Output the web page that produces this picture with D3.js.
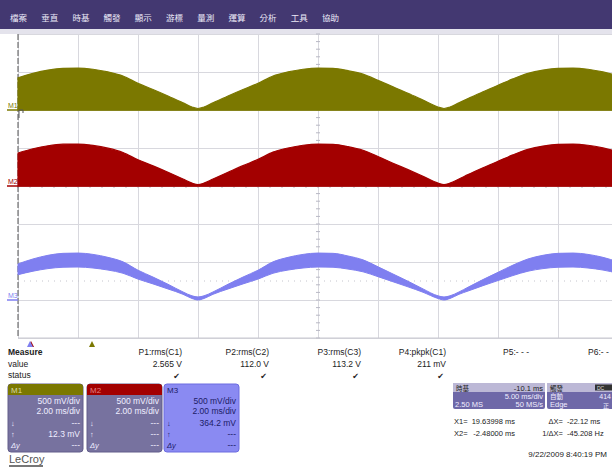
<!DOCTYPE html>
<html><head><meta charset="utf-8">
<script src="https://cdn.jsdelivr.net/npm/d3@7/dist/d3.min.js"></script>
<style>
html,body{margin:0;padding:0;background:#fff;}
svg{display:block;font-family:"Liberation Sans",Arial,sans-serif;}
</style></head><body>
<svg id="c" width="612" height="468"></svg>
<script>
// ---------- data ----------
const menuItems = ["檔案","垂直","時基","觸發","顯示","游標","量測","運算","分析","工具","協助"];
// time samples (ms), 2 ms/div, screen spans -10..+10 ms
const times = [-10,-9.5,-9,-8.5,-8,-7.5,-7,-6.5,-6,-5.5,-5,-4.5,-4.2,-4.0,-3.8,-3.5,-3,-2.5,-2,-1.5,-1,-0.5,0,0.5,1,1.5,2,2.5,3,3.5,4,4.2,4.4,4.7,5,5.5,6,6.5,7,7.5,8,8.5,9,9.5,10];
// envelope heights above each trace's ground (mV)
const m1Env = [424,482,525,548,552,536,501,448,350,270,185,95,40,20,40,95,185,270,350,448,501,536,552,548,517,472,390,305,220,130,40,20,40,95,150,240,325,410,482,525,548,552,536,501,448];
const m2Env = [434,490,530,550,552,534,498,440,345,265,180,92,38,18,38,92,180,268,350,446,500,536,552,548,518,470,388,300,215,128,38,18,38,92,150,240,325,410,482,525,548,552,536,501,452];
const m3Upper = [475,540,588,614,618,600,561,502,392,302,207,106,55,40,55,106,207,302,392,502,561,600,618,614,579,528,437,342,247,146,55,40,55,106,168,269,364,459,540,588,614,618,600,561,502];
const m3Lower = [333,379,413,431,434,421,394,352,275,212,145,75,20,0,20,75,145,212,275,352,394,421,434,431,407,371,307,240,173,102,20,0,20,75,118,189,256,322,379,413,431,434,421,394,352];
const traceNames = ["M1","M2","M3"];
const traceOffsetsMv = [1000, 0, -1500];
const measureNames = ["P1:rms(C1)","P2:rms(C2)","P3:rms(C3)","P4:pkpk(C1)"];
const measureValues = ["2.565 V","112.0 V","113.2 V","211 mV"];
const boxVdiv = ["500 mV/div","500 mV/div","500 mV/div"];
const boxHdiv = ["2.00 ms/div","2.00 ms/div","2.00 ms/div"];
const boxDown = ["---","---","364.2 mV"];
const boxUp = ["12.3 mV","---","---"];
const boxDy = ["---","---","---"];
const cursorLabels = ["X1=","X2="];
const cursorValues = ["19.63998 ms","-2.48000 ms"];
const deltaLabels = ["ΔX=","1/ΔX="];
const deltaValues = ["-22.12 ms","-45.208 Hz"];

// ---------- layout / style ----------
const colors = ["#7b7800","#a30000","#7f7ff0"];
const svg = d3.select("#c");
const W = 612, H = 468;
const plot = {l:18, r:618, t:34, b:338};
const cjk = "'Noto Sans CJK TC',sans-serif";

// header bar
svg.append("rect").attr("x",0).attr("y",0).attr("width",W).attr("height",29).attr("fill","#433871");
svg.append("rect").attr("x",0).attr("y",29).attr("width",W).attr("height",5).attr("fill","#e4e3ec");
const menuX = d3.scalePoint().domain(menuItems).range([10,322]);
svg.append("g").selectAll("text").data(menuItems).join("text")
  .attr("x",d=>menuX(d)).attr("y",21).attr("fill","#eceaf8")
  .attr("font-size",8.5).attr("font-family",cjk).text(d=>d);

// scales
const x = d3.scaleLinear().domain([-10,10]).range([plot.l,plot.r]);
const y = d3.scaleLinear().domain([-2000,2000]).range([plot.b,plot.t]);

// plot background + grid
svg.append("rect").attr("x",plot.l).attr("y",plot.t).attr("width",W-plot.l).attr("height",plot.b-plot.t).attr("fill","#fff");
const grid = svg.append("g");
const xTicks = d3.range(-10,10.01,2);
const yTicks = d3.range(-2000,2000.1,500);
grid.append("g").attr("transform",`translate(0,${plot.b})`)
  .call(d3.axisBottom(x).tickValues(xTicks).tickSize(-(plot.b-plot.t)).tickFormat(""))
  .call(g=>g.select(".domain").remove())
  .call(g=>g.selectAll("line").attr("stroke","#d8d8de"));
grid.append("g").attr("transform",`translate(${plot.l},0)`)
  .call(d3.axisLeft(y).tickValues(yTicks).tickSize(-(W-plot.l)).tickFormat(""))
  .call(g=>g.select(".domain").remove())
  .call(g=>g.selectAll("line").attr("stroke","#d8d8de"));
// minor ticks on centre axes
const minorT = d3.range(-10,10.01,0.4);
const minorV = d3.range(-2000,2000.1,100);
grid.append("g").selectAll("line").data(minorV).join("line")
  .attr("x1",x(0)-2).attr("x2",x(0)+2).attr("y1",d=>y(d)).attr("y2",d=>y(d)).attr("stroke","#b8b8c4");
grid.append("g").selectAll("line").data(minorT).join("line")
  .attr("y1",y(0)-2).attr("y2",y(0)+2).attr("x1",d=>x(d)).attr("x2",d=>x(d)).attr("stroke","#b8b8c4");
// dotted level line
grid.append("line").attr("x1",plot.l).attr("x2",W).attr("y1",y(-1250)).attr("y2",y(-1250))
  .attr("stroke","#c4c4cc").attr("stroke-dasharray","1,5");
// left border dashed
grid.append("line").attr("x1",plot.l).attr("x2",plot.l).attr("y1",plot.t).attr("y2",plot.b)
  .attr("stroke","#555").attr("stroke-dasharray","6,2");
grid.append("line").attr("x1",plot.l).attr("x2",W).attr("y1",plot.b).attr("y2",plot.b).attr("stroke","#c8c8d0");

// traces
const envs = [m1Env, m2Env];
envs.forEach((env,i)=>{
  const off = traceOffsetsMv[i];
  const area = d3.area().x((d,k)=>x(times[k])).y0(y(off)).y1(d=>y(off+d)).curve(d3.curveMonotoneX);
  svg.append("path").datum(env).attr("d",area).attr("fill",colors[i])
    .attr("stroke",colors[i]).attr("stroke-width",1.2);
  svg.append("line").attr("x1",plot.l).attr("x2",W).attr("y1",y(off)).attr("y2",y(off))
    .attr("stroke",colors[i]).attr("stroke-width",1.5);
});
{
  const off = traceOffsetsMv[2];
  const band = d3.area().x((d,k)=>x(times[k])).y0((d,k)=>y(off+m3Lower[k])).y1(d=>y(off+d)).curve(d3.curveMonotoneX);
  svg.append("path").datum(m3Upper).attr("d",band).attr("fill",colors[2])
    .attr("stroke",colors[2]).attr("stroke-width",1);
}
// trace labels and ground markers
traceNames.forEach((n,i)=>{
  const gy = y(traceOffsetsMv[i]);
  svg.append("text").attr("x",8).attr("y",gy-2).attr("font-size",7).attr("fill",colors[i]).text(n);
  svg.append("line").attr("x1",7).attr("x2",18).attr("y1",gy).attr("y2",gy).attr("stroke",colors[i]).attr("stroke-width",1.5);
});
// trigger marker near M1
svg.append("path").attr("d",`M${plot.l+1},${y(1000)+8} V${y(1000)} H${plot.l+5} V${y(1000)+3}`)
  .attr("fill","none").attr("stroke","#555").attr("stroke-width",1);

// bottom triangles
const tri = (cx,cy,c)=>svg.append("path").attr("d",`M${cx-3},${cy+3} L${cx},${cy-3} L${cx+3},${cy+3}Z`).attr("fill",c);
tri(31,344,colors[1]); tri(30,344,colors[2]);
tri(92,344,colors[0]);

// measure table
const mt = svg.append("g").attr("font-size",8.5).attr("fill","#222");
mt.append("text").attr("x",8).attr("y",355).attr("font-weight","bold").text("Measure");
mt.append("text").attr("x",8).attr("y",367).text("value");
mt.append("text").attr("x",8).attr("y",378).text("status");
const colRight = [182,269,361,446];
measureNames.forEach((n,i)=>{
  const cx = colRight[i];
  mt.append("text").attr("x",cx).attr("y",355).attr("text-anchor","end").text(n);
  mt.append("text").attr("x",cx).attr("y",367).attr("text-anchor","end").text(measureValues[i]);
  mt.append("text").attr("x",cx-2).attr("y",379).attr("text-anchor","end").attr("font-family","DejaVu Sans").attr("font-size",8).text("✔");
});
mt.append("text").attr("x",503).attr("y",355).text("P5:- - -");
mt.append("text").attr("x",588).attr("y",355).text("P6:- -");

// trace info boxes
const boxX = [8,87,164];
traceNames.forEach((n,i)=>{
  const bx = boxX[i], bw = 75, by = 384, bh = 68;
  const g = svg.append("g");
  const bodyFill = i===2 ? "#8a8af2" : "#77729f";
  const txtFill = i===2 ? "#1c1c66" : "#f0eeff";
  g.append("rect").attr("x",bx).attr("y",by).attr("width",bw).attr("height",bh).attr("rx",3).attr("fill",bodyFill)
    .attr("stroke", i===2 ? "#6c6ce0" : "#625d8a");
  if(i<2){
    g.append("path").attr("d",`M${bx},${by+11} V${by+3} Q${bx},${by} ${bx+3},${by} H${bx+bw-3} Q${bx+bw},${by} ${bx+bw},${by+3} V${by+11}Z`).attr("fill",colors[i]);
  }
  g.append("text").attr("x",bx+3).attr("y",by+9).attr("font-size",8)
    .attr("fill", i===0 ? "#d8d8a0" : i===1 ? "#e08080" : "#1c1c66").text(n);
  const right = bx+bw-3;
  [[boxVdiv[i],20],[boxHdiv[i],30]].forEach(([t,dy])=>g.append("text").attr("x",right).attr("y",by+dy).attr("text-anchor","end").attr("font-size",8.5).attr("fill",txtFill).text(t));
  [["↓",boxDown[i],42],["↑",boxUp[i],53],["Δy",boxDy[i],64]].forEach(([lab,val,dy])=>{
    g.append("text").attr("x",bx+3).attr("y",by+dy).attr("font-size",7.5).attr("font-style",lab==="Δy"?"italic":"normal").attr("fill",txtFill).text(lab);
    g.append("text").attr("x",right).attr("y",by+dy).attr("text-anchor","end").attr("font-size",8.5).attr("fill",txtFill).text(val);
  });
});

// LeCroy logo
svg.append("text").attr("x",9).attr("y",463).attr("font-size",11).attr("fill","#555").text("LeCroy");
svg.append("rect").attr("x",9).attr("y",465).attr("width",34).attr("height",2).attr("fill","#777");

// timebase / trigger boxes
const tb = svg.append("g").attr("font-size",7.5);
tb.append("rect").attr("x",453).attr("y",383).attr("width",92).attr("height",26).attr("rx",2).attr("fill","#6e68a8");
tb.append("rect").attr("x",453).attr("y",383).attr("width",92).attr("height",9).attr("fill","#bcb8d6");
tb.append("text").attr("x",456).attr("y",390.5).attr("font-family",cjk).attr("font-size",6.5).attr("fill","#222").text("時基");
tb.append("text").attr("x",543).attr("y",390.5).attr("text-anchor","end").attr("fill","#222").text("-10.1 ms");
tb.append("text").attr("x",543).attr("y",399).attr("text-anchor","end").attr("fill","#f0eeff").text("5.00 ms/div");
tb.append("text").attr("x",455).attr("y",407).attr("fill","#f0eeff").text("2.50 MS");
tb.append("text").attr("x",543).attr("y",407).attr("text-anchor","end").attr("fill","#f0eeff").text("50 MS/s");
tb.append("rect").attr("x",547).attr("y",383).attr("width",70).attr("height",26).attr("rx",2).attr("fill","#6e68a8");
tb.append("rect").attr("x",547).attr("y",383).attr("width",70).attr("height",9).attr("fill","#bcb8d6");
tb.append("text").attr("x",550).attr("y",390.5).attr("font-family",cjk).attr("font-size",6.5).attr("fill","#222").text("觸發");
tb.append("rect").attr("x",595).attr("y",384.5).attr("width",17).attr("height",6).attr("fill","#333");
tb.append("text").attr("x",597).attr("y",390).attr("font-size",5).attr("fill","#ddd").text("DC");
tb.append("text").attr("x",550).attr("y",399).attr("font-family",cjk).attr("font-size",6.5).attr("fill","#f0eeff").text("自動");
tb.append("text").attr("x",611).attr("y",398.5).attr("text-anchor","end").attr("font-size",7).attr("fill","#f0eeff").text("414");
tb.append("text").attr("x",550).attr("y",407).attr("fill","#f0eeff").text("Edge");
tb.append("text").attr("x",603).attr("y",407.5).attr("font-family",cjk).attr("font-size",6).attr("fill","#f0eeff").text("正");

const cur = svg.append("g").attr("font-size",7.5).attr("fill","#222");
[424,436].forEach((yy,k)=>{
  cur.append("text").attr("x",454).attr("y",yy).text(cursorLabels[k]);
  cur.append("text").attr("x",515).attr("y",yy).attr("text-anchor","end").text(cursorValues[k]);
  cur.append("text").attr("x",563).attr("y",yy).attr("text-anchor","end").text(deltaLabels[k]);
  cur.append("text").attr("x",567).attr("y",yy).text(deltaValues[k]);
});
svg.append("text").attr("x",607).attr("y",457).attr("text-anchor","end").attr("font-size",8).attr("fill","#222").text("9/22/2009 8:40:19 PM");
</script>
</body></html>
